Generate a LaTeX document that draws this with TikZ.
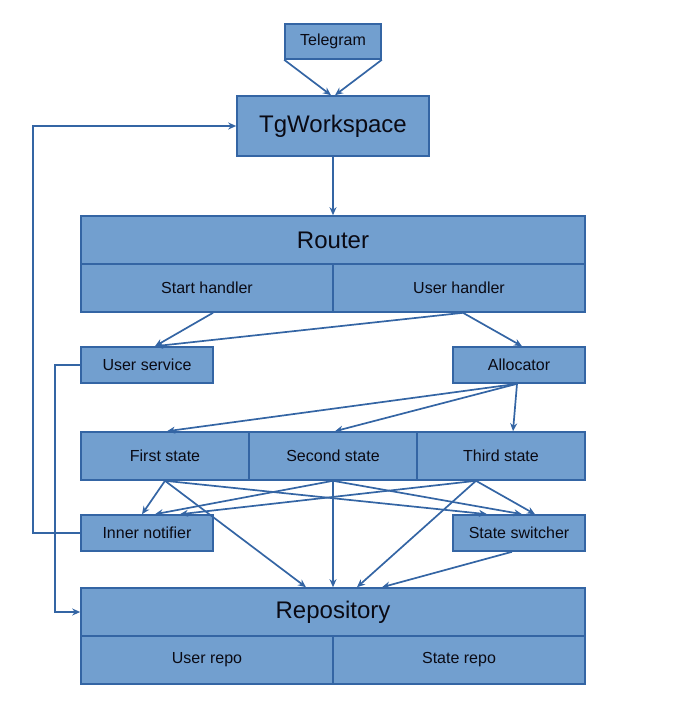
\documentclass[tikz,border=0pt]{standalone}
\usepackage{fontspec}
\setmainfont{Liberation Sans}
\usetikzlibrary{arrows.meta}
\definecolor{boxfill}{HTML}{729FCF}
\definecolor{boxline}{HTML}{3465A4}
\definecolor{boxtext}{HTML}{0A0A14}
\begin{document}
\begin{tikzpicture}[x=1pt,y=-1pt,
    blk/.style={draw=boxline,fill=boxfill,line width=1.6pt,text=boxtext,inner sep=0pt,font=\fontsize{16}{18}\selectfont},
    big/.style={blk,font=\fontsize{24}{28}\selectfont},
    link/.style={draw=boxline,line width=1.7pt,-{Stealth[length=8pt,width=7pt]}}]

        \useasboundingbox (0,0) rectangle (679,708);

        % Ingresso
        \node[blk,minimum width=96pt,minimum height=35pt] (tg) at (333,41.5) {Telegram};
        \node[big,minimum width=192pt,minimum height=60pt] (ws) at (333,126) {TgWorkspace};

        % Router con i due handler
        \node[big,minimum width=504pt,minimum height=48pt] (router) at (333,240) {Router};
        \node[blk,minimum width=252pt,minimum height=48pt] (starth) at (207,288) {Start handler};
        \node[blk,minimum width=252pt,minimum height=48pt] (userh) at (459,288) {User handler};

        % Servizi
        \node[blk,minimum width=132pt,minimum height=36pt] (usvc) at (147,365) {User service};
        \node[blk,minimum width=132pt,minimum height=36pt] (alloc) at (519,365) {Allocator};

        % Stati
        \foreach \name/\xc/\txt in {first/165/First state,second/333/Second state,third/501/Third state} {
            \node[blk,minimum width=168pt,minimum height=48pt] (\name) at (\xc,456) {\txt};
        }

        \node[blk,minimum width=132pt,minimum height=36pt] (notif) at (147,533) {Inner notifier};
        \node[blk,minimum width=132pt,minimum height=36pt] (switch) at (519,533) {State switcher};

        % Repository
        \node[big,minimum width=504pt,minimum height=48pt] (repo) at (333,612) {Repository};
        \node[blk,minimum width=252pt,minimum height=48pt] (urepo) at (207,660) {User repo};
        \node[blk,minimum width=252pt,minimum height=48pt] (srepo) at (459,660) {State repo};

        % Collegamenti in alto
        \draw[link] (tg.south west) -- ([xshift=-2pt]ws.north);
        \draw[link] (tg.south east) -- ([xshift=2pt]ws.north);
        \draw[link] (ws.south) -- (router.north);
        \draw[link] ([xshift=6pt]starth.south) -- ([xshift=8pt]usvc.north);
        \draw[link] ([xshift=4pt]userh.south) -- ([xshift=8pt]usvc.north);
        \draw[link] ([xshift=4pt]userh.south) -- ([xshift=3pt]alloc.north);

        % Allocator verso gli stati
        \draw[link] ([xshift=-2pt]alloc.south) -- ([xshift=2pt]first.north);
        \draw[link] ([xshift=-2pt]alloc.south) -- ([xshift=2pt]second.north);
        \draw[link] ([xshift=-2pt]alloc.south) -- ([xshift=12pt]third.north);

        % Stati verso notifier, switcher e repository
        \coordinate (s1) at (first.south);
        \coordinate (s2) at (second.south);
        \coordinate (s3) at ([xshift=-25pt]third.south);
        \foreach \src/\dn/\ds/\dr in {s1/-5/-32/-27,s2/8/3/0,s3/33/16/24} {
            \draw[link] (\src) -- ([xshift=\dn pt]notif.north);
            \draw[link] (\src) -- ([xshift=\ds pt]switch.north);
            \draw[link] (\src) -- ([xshift=\dr pt]repo.north);
        }
        \draw[link] ([xshift=-7pt]switch.south) -- ([xshift=49pt]repo.north);

        % Ritorni a sinistra
        \draw[link] (notif.west) -- ++(-47,0) |- (ws.west);
        \draw[link] (usvc.west) -- ++(-25,0) |- (repo.west);

\end{tikzpicture}
\end{document}
